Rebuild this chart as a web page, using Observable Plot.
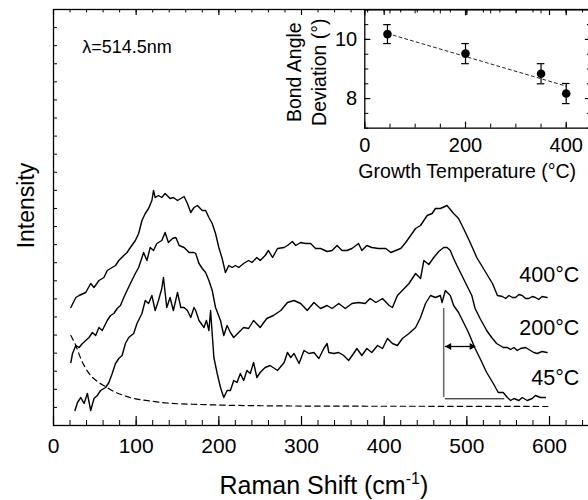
<!DOCTYPE html>
<html><head><meta charset="utf-8">
<script src="https://cdn.jsdelivr.net/npm/d3@7"></script>
<script src="https://cdn.jsdelivr.net/npm/@observablehq/plot@0.6"></script>
<style>
html,body{margin:0;padding:0;background:#fff;overflow:hidden;}
#chart{position:relative;width:588px;height:500px;overflow:hidden;background:#fff;}
#chart svg{position:absolute;left:0;top:0;max-width:none;}
</style></head><body><div id="chart"></div>
<script>
const FONT = "Liberation Sans, Arial, Helvetica, sans-serif";

// ---- Raman spectra (Raman shift in cm^-1, intensity in arbitrary units) ----
const shift400 = [21,27,31,39,45,49,55,61,65,71,75,79,85,89,93,99,103,107,111,115,119,121,123,127,131,135,141,145,150,154,158,162,166,170,174,180,184,188,192,196,200,204,208,212,216,220,224,230,236,240,246,250,256,260,265,271,279,283,289,293,299,305,311,317,323,331,337,343,349,355,361,369,373,379,385,393,402,408,414,420,426,432,438,444,452,458,462,468,476,484,490,496,504,512,520,531,537,543,547,551,555,559,563,567,571,575,579,583,587,591,597];
const int400 = [118,128,130,133,142,138,145,148,155,158,160,165,170,173,178,185,192,205,212,217,225,235,228,230,228,232,227,228,225,227,229,222,213,218,220,215,215,208,202,192,178,167,153,160,158,160,158,162,165,163,168,165,170,175,168,177,178,180,184,180,183,182,182,177,177,174,175,180,175,175,177,182,175,180,178,177,177,173,175,177,183,190,197,200,210,212,217,217,220,212,207,197,183,168,157,142,130,129,127,130,128,128,131,130,127,127,129,128,126,129,128];

const shift200 = [21,23,27,31,35,39,43,47,51,55,59,65,69,73,77,81,85,89,93,99,103,109,113,117,121,125,131,135,139,144,148,152,158,164,170,172,176,180,184,188,192,196,202,206,210,214,218,224,230,236,242,250,258,266,275,283,291,299,307,315,323,331,337,345,353,361,369,377,383,390,398,406,410,416,422,430,438,444,448,454,460,466,472,476,480,484,488,494,500,506,510,516,524,530,536,544,549,553,557,561,565,571,577,581,585,591,597];
const int200 = [63,72,80,78,82,85,88,93,90,98,95,105,110,112,117,120,128,135,142,152,158,173,165,178,175,182,185,193,183,187,188,180,178,173,173,172,162,157,153,145,135,118,105,90,100,93,88,93,98,97,105,98,107,110,115,123,125,122,115,123,117,120,117,122,117,122,123,122,127,123,127,120,118,130,135,142,152,147,165,161,168,174,178,178,175,167,160,150,140,130,117,107,95,88,82,78,78,76,78,75,77,78,75,73,72,74,73];

const shift45 = [26,29,33,37,41,45,49,53,57,63,67,71,75,79,83,87,91,97,101,107,111,115,119,123,127,131,133,137,141,145,150,154,158,162,166,170,172,176,182,185,188,190,194,198,202,206,210,214,218,222,226,230,234,238,242,246,250,256,262,271,279,283,287,291,297,303,309,315,321,327,331,333,339,345,351,357,363,367,373,379,385,392,398,404,410,416,422,430,438,444,450,456,462,468,470,474,480,484,490,496,502,510,516,524,532,538,544,549,553,557,563,567,573,579,583,589,595];
const int45 = [15,23,28,22,32,15,27,30,35,38,43,52,62,67,70,82,88,92,102,112,125,122,130,115,125,137,148,118,128,115,133,118,118,115,108,118,115,105,98,105,95,115,68,52,38,28,35,35,45,43,52,45,55,52,63,48,53,58,60,55,63,73,68,72,62,75,72,73,67,77,82,73,72,73,70,65,72,77,70,77,73,80,77,87,82,80,87,92,98,108,122,130,128,130,123,135,130,120,113,103,93,77,67,53,42,33,33,28,25,27,25,28,25,27,30,28,28];

// dashed background (Rayleigh tail)
const shiftBase = [21,27,33,39,45,53,63,73,85,97,117,137,178,258,359,480,598];
const intBase = [90,80,67,57,50,44,39,34,30,27,24.5,22.5,21,19.7,19.3,19.2,19];

const curveLabels = ["400°C", "200°C", "45°C"];
const curveLabelLevel = [144, 91, 41];

// peak / half-width annotation on the 45°C spectrum
const peakShift = 472, peakTop = 117, peakBase = 28;
const halfWidthStart = 474, halfWidthEnd = 510.5, halfWidthLevel = 79;
const baseLineEnd = 546, baseLineLevel = 26.7;

// axis ticks
const xMajor = [0,100,200,300,400,500,600];
const xMinor = d3.range(0, 660, 20);
const yTicksMain = d3.range(0, 24).map(i => i * 416 / 23);

// ---- inset: bond angle deviation vs growth temperature ----
const growthTemp = [45, 200, 350, 400];
const bondDev = [10.18, 9.52, 8.84, 8.17];
const bondErr = [0.32, 0.34, 0.34, 0.34];
const fitTemp = [45, 400];
const fitDev = [10.2, 8.42];
const insetXMajor = [0, 200, 400];
const insetXMinor = d3.range(0, 451, 50);
const insetYMajor = [8, 10];
const insetYMinor = d3.range(7, 11.01, 0.5);

const toPts = (xs, ys) => xs.map((x, i) => ({x, y: ys[i]}));
const s400 = toPts(shift400, int400), s200 = toPts(shift200, int200), s45 = toPts(shift45, int45);
const base = toPts(shiftBase, intBase);
const labelRows = curveLabels.map((t, i) => ({t, y: curveLabelLevel[i]}));

const FH = 416; // main frame height
const FW = 537.35; // main frame width
const main = Plot.plot({
  width: 600, height: 500,
  marginLeft: 53, marginRight: 9.65, marginTop: 9, marginBottom: 75,
  x: {domain: [0, 650]},
  y: {domain: [0, 416], axis: null},
  style: "max-width:none;background:transparent;overflow:visible;",
  marks: [
    Plot.frame({stroke: "black", strokeWidth: 1.3}),
    Plot.ruleX(xMajor, {x: d => d, insetTop: FH - 9, strokeWidth: 1.2}),
    Plot.ruleX(xMinor, {x: d => d, insetTop: FH - 5, strokeWidth: 1}),
    Plot.ruleX(xMajor, {x: d => d, insetBottom: FH - 6, strokeWidth: 1.2}),
    Plot.ruleX(xMinor, {x: d => d, insetBottom: FH - 3.5, strokeWidth: 1}),
    Plot.ruleY(yTicksMain, {y: d => d, insetRight: FW - 4, strokeWidth: 1}),
    Plot.axisX({ticks: xMajor, tickSize: 0, tickPadding: 12.8, fontSize: 21, fontFamily: FONT, label: null, tickFormat: d => String(d)}),
    Plot.line(base, {x: "x", y: "y", stroke: "black", strokeWidth: 1.2, strokeDasharray: "5.5,4", curve: "monotone-x"}),
    Plot.line(s400, {x: "x", y: "y", stroke: "black", strokeWidth: 1.4, strokeLinejoin: "round"}),
    Plot.line(s200, {x: "x", y: "y", stroke: "black", strokeWidth: 1.4, strokeLinejoin: "round"}),
    Plot.line(s45, {x: "x", y: "y", stroke: "black", strokeWidth: 1.4, strokeLinejoin: "round"}),
    Plot.ruleX([peakShift], {x: d => d, y1: peakBase, y2: peakTop, stroke: "#666", strokeWidth: 1.5}),
    Plot.ruleY([baseLineLevel], {y: d => d, x1: halfWidthStart, x2: baseLineEnd, stroke: "black", strokeWidth: 1}),
    Plot.ruleY([halfWidthLevel], {y: d => d, x1: halfWidthStart, x2: halfWidthEnd, stroke: "black", strokeWidth: 1.3}),
    Plot.dot([halfWidthStart], {x: d => d, y: halfWidthLevel, symbol: "triangle", r: 2.6, rotate: -90, dx: 3.8, fill: "black", stroke: "none"}),
    Plot.dot([halfWidthEnd], {x: d => d, y: halfWidthLevel, symbol: "triangle", r: 2.6, rotate: 90, dx: -3.8, fill: "black", stroke: "none"}),
    Plot.text(labelRows, {x: 636, y: "y", text: "t", textAnchor: "end", lineAnchor: "bottom", fontSize: 21.5, fontFamily: FONT, fill: "black"}),
    Plot.text(["λ=514.5nm"], {frameAnchor: "top-left", dx: 28.7, dy: 43, textAnchor: "start", lineAnchor: "bottom", fontSize: 18, fontFamily: FONT, fill: "black"}),
    Plot.text(["Intensity"], {frameAnchor: "left", dx: -20, dy: -12, rotate: -90, textAnchor: "middle", lineAnchor: "bottom", fontSize: 23, fontFamily: FONT, fill: "black"}),
    Plot.text(["Raman Shift (cm-1)"], {frameAnchor: "bottom", dx: 1.7, dy: 68.3, textAnchor: "middle", lineAnchor: "bottom", fontSize: 25, fontFamily: FONT, fill: "black"})
  ]
});

// superscript for cm^-1
d3.select(main).selectAll("text").filter(function(){ return this.textContent === "Raman Shift (cm-1)"; }).each(function(){
  const t = d3.select(this); t.text(null);
  t.append("tspan").text("Raman Shift (cm");
  t.append("tspan").attr("font-size", 16).attr("dy", -10).text("-1");
  t.append("tspan").attr("dy", 10).text(")");
});

const pts = growthTemp.map((t, i) => ({t, v: bondDev[i], e: bondErr[i]}));
const fit = toPts(fitTemp, fitDev);
const IFH = 118.3, IFW = 226.6;
const inset = Plot.plot({
  width: 600, height: 200,
  marginLeft: 364.3, marginRight: 9.1, marginTop: 9.35, marginBottom: 72.35,
  x: {domain: [0, 450]},
  y: {domain: [7, 11]},
  style: "max-width:none;background:transparent;overflow:visible;",
  marks: [
    Plot.frame({stroke: "black", strokeWidth: 1.3}),
    Plot.ruleX(insetXMinor, {x: d => d, insetTop: IFH - 4}),
    Plot.ruleX(insetXMajor, {x: d => d, insetTop: IFH - 6, strokeWidth: 1.2}),
    Plot.ruleX(insetXMinor, {x: d => d, insetBottom: IFH - 4}),
    Plot.ruleX(insetXMajor, {x: d => d, insetBottom: IFH - 6, strokeWidth: 1.2}),
    Plot.ruleY(insetYMinor, {y: d => d, insetRight: IFW - 4}),
    Plot.ruleY(insetYMajor, {y: d => d, insetRight: IFW - 6, strokeWidth: 1.2}),
    Plot.ruleY(insetYMinor, {y: d => d, insetLeft: IFW - 4}),
    Plot.ruleY(insetYMajor, {y: d => d, insetLeft: IFW - 6, strokeWidth: 1.2}),
    Plot.axisX({ticks: insetXMajor, tickSize: 0, tickPadding: 9.85, fontSize: 20, fontFamily: FONT, label: null, tickFormat: d => String(d)}),
    Plot.axisY({ticks: insetYMajor, anchor: "left", tickSize: 0, tickPadding: 7.6, fontSize: 20, fontFamily: FONT, label: null, tickFormat: d => String(d)}),
    Plot.line(fit, {x: "x", y: "y", stroke: "#222", strokeWidth: 1, strokeDasharray: "3,3"}),
    Plot.ruleX(pts, {x: "t", y1: d => d.v - d.e, y2: d => d.v + d.e, stroke: "black", strokeWidth: 1.2}),
    Plot.ruleY(pts, {y: d => d.v - d.e, x1: "t", x2: "t", insetLeft: -3.8, insetRight: -3.8, stroke: "black", strokeWidth: 1.2}),
    Plot.ruleY(pts, {y: d => d.v + d.e, x1: "t", x2: "t", insetLeft: -3.8, insetRight: -3.8, stroke: "black", strokeWidth: 1.2}),
    Plot.dot(pts, {x: "t", y: "v", r: 4.3, fill: "black", stroke: "none"}),
    Plot.text(["Growth Temperature (°C)"], {frameAnchor: "bottom", dx: -10.9, dy: 50, textAnchor: "middle", lineAnchor: "bottom", fontSize: 19.5, fontFamily: FONT, fill: "black"}),
    Plot.text(["Bond Angle"], {frameAnchor: "left", dx: -63.6, dy: 3.2, rotate: -90, textAnchor: "middle", lineAnchor: "bottom", fontSize: 19.5, fontFamily: FONT, fill: "black"}),
    Plot.text(["Deviation (°)"], {frameAnchor: "left", dx: -38.6, dy: 3.2, rotate: -90, textAnchor: "middle", lineAnchor: "bottom", fontSize: 19.5, fontFamily: FONT, fill: "black"})
  ]
});

const chart = document.getElementById("chart");
chart.appendChild(main);
chart.appendChild(inset);
</script></body></html>
